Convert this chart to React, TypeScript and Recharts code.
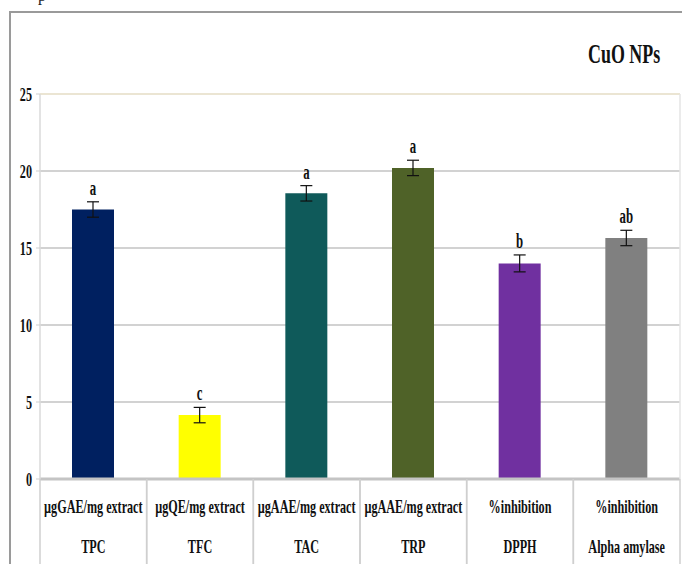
import React from 'react';
import { BarChart, Bar, XAxis, YAxis, CartesianGrid, Cell, ErrorBar, LabelList, ReferenceLine } from 'recharts';

const categories = ['TPC', 'TFC', 'TAC', 'TRP', 'DPPH', 'Alpha amylase'];
const units = ['µgGAE/mg extract', 'µgQE/mg extract', 'µgAAE/mg extract', 'µgAAE/mg extract', '%inhibition', '%inhibition'];
const values = [17.5, 4.15, 18.55, 20.2, 14.0, 15.65];
const errors = [0.5, 0.5, 0.5, 0.5, 0.55, 0.5];
const letters = ['a', 'c', 'a', 'a', 'b', 'ab'];
const yTicks = [0, 5, 10, 15, 20, 25];

const COLORS = ['#002060', '#FFFF00', '#0F5A5A', '#4F6228', '#7030A0', '#808080'];
const FONT = '"Liberation Serif", "Times New Roman", serif';
// the source picture is squeezed horizontally, so all text is narrowed
const SX = 0.64;

const data = categories.map((name, i) => ({ name, unit: units[i], value: values[i], err: errors[i] }));

const SquishText = ({ x, y, size, anchor = 'middle', children }: any) => (
  <text
    transform={`translate(${x},${y}) scale(${SX},1)`}
    textAnchor={anchor}
    fontFamily={FONT}
    fontWeight="bold"
    fontSize={size}
    fill="#111"
  >
    {children}
  </text>
);

const CategoryTick = (props: any) => {
  const { x, y, payload, index } = props;
  const half = payload && payload.offset ? payload.offset : 53.3;
  return (
    <g>
      <line x1={x - half} y1={y} x2={x - half} y2={y + 90} stroke="#cfcfcf" strokeWidth={1.5} />
      <line x1={x + half} y1={y} x2={x + half} y2={y + 90} stroke="#cfcfcf" strokeWidth={1.5} />
      <SquishText x={x} y={y + 34} size={19}>{units[index]}</SquishText>
      <SquishText x={x} y={y + 74} size={19}>{payload.value}</SquishText>
    </g>
  );
};

const ValueTick = (props: any) => {
  const { x, y, payload } = props;
  return (
    <SquishText x={x} y={y + 6.5} size={19} anchor="end">
      {payload.value}
    </SquishText>
  );
};

const LetterLabel = (props: any) => {
  const { x, y, width, height, index } = props;
  const pxPerUnit = height / values[index];
  const errPx = pxPerUnit * errors[index];
  return (
    <SquishText x={x + width / 2} y={y - errPx - 7} size={20}>
      {letters[index]}
    </SquishText>
  );
};

const App: React.FC = () => {
  return (
    <div style={{ position: 'absolute', left: 0, top: 0, width: 682, height: 564, overflow: 'hidden', background: '#fff' }}>
      <div style={{ position: 'absolute', left: 38, top: -13, fontFamily: FONT, fontSize: 16, color: '#222' }}>p</div>
      <div
        style={{
          position: 'absolute',
          left: 9,
          top: 11,
          width: 720,
          height: 620,
          borderTop: '2px solid #9a9a9a',
          borderLeft: '2px solid #9a9a9a',
        }}
      />
      <div
        style={{
          position: 'absolute',
          left: 588,
          top: 40,
          fontFamily: FONT,
          fontWeight: 'bold',
          fontSize: 28,
          lineHeight: '28px',
          color: '#111',
          whiteSpace: 'nowrap',
          transform: `scaleX(${SX})`,
          transformOrigin: 'left top',
        }}
      >
        CuO NPs
      </div>
      <div style={{ position: 'absolute', left: 0, top: 0 }}>
        <BarChart width={682} height={564} data={data} margin={{ top: 94, right: 0, bottom: 5, left: 0 }} barCategoryGap={0}>
          <CartesianGrid vertical={false} stroke="#d2d2d2" strokeWidth={2} />
          <ReferenceLine y={25} stroke="#ebe5d3" strokeWidth={2} />
          <XAxis
            dataKey="name"
            height={80}
            tickSize={0}
            tickMargin={0}
            interval={0}
            axisLine={{ stroke: '#c4c4c4', strokeWidth: 3 }}
            tick={<CategoryTick />}
          />
          <YAxis
            domain={[0, 25]}
            ticks={yTicks}
            width={40}
            tickSize={4}
            tickMargin={4}
            axisLine={{ stroke: '#dadada', strokeWidth: 1.5 }}
            tickLine={{ stroke: '#cfcfcf' }}
            tick={<ValueTick />}
          />
          <YAxis yAxisId="right" orientation="right" width={2} tick={false} tickLine={false} axisLine={{ stroke: '#e4e4e4', strokeWidth: 1.5 }} />
          <Bar dataKey="value" barSize={42} isAnimationActive={false}>
            {data.map((d, i) => (
              <Cell key={`cell-${i}`} fill={COLORS[i]} />
            ))}
            <ErrorBar dataKey="err" width={6} stroke="#111" strokeWidth={1.2} />
            <LabelList dataKey="value" content={<LetterLabel />} />
          </Bar>
        </BarChart>
      </div>
    </div>
  );
};

export default App;
